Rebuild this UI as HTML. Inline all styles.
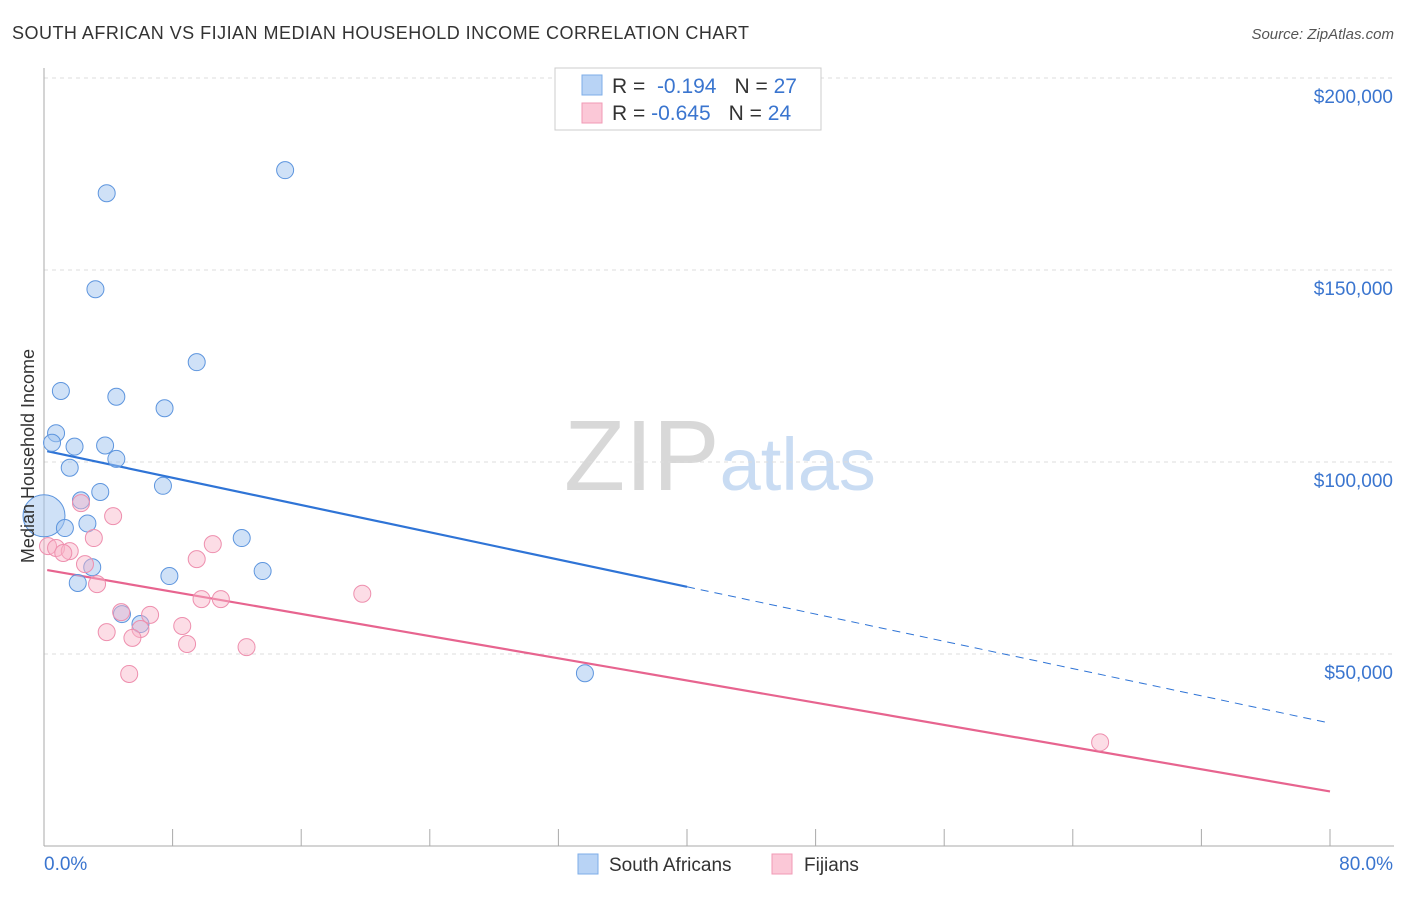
<!DOCTYPE html>
<html><head><meta charset="utf-8"><style>
body{margin:0;background:#fff;font-family:"Liberation Sans",sans-serif}
svg text{font-family:"Liberation Sans",sans-serif}
</style></head><body>
<svg id="chart" width="1406" height="892" xmlns="http://www.w3.org/2000/svg">
<text x="12" y="39" font-size="18" fill="#333" textLength="737">SOUTH AFRICAN VS FIJIAN MEDIAN HOUSEHOLD INCOME CORRELATION CHART</text>
<text x="1394" y="39" font-size="15" fill="#555" text-anchor="end" font-style="italic">Source: ZipAtlas.com</text>
<text x="720" y="490" font-size="100" text-anchor="middle" fill="#ddd" font-family="Liberation Serif"><tspan fill="#d8d8d8">ZIP</tspan><tspan fill="#c9dcf3" font-family="Liberation Sans" font-size="74">atlas</tspan></text>
<g id="grid"></g>
<g id="axes"></g>
<g id="lines"></g>
<g id="pts"></g>
<text transform="translate(34,456) rotate(-90)" font-size="18" fill="#333" text-anchor="middle">Median Household Income</text>
<g>
<rect x="555" y="68" width="266" height="62" fill="#fff" stroke="#ccc"/>
<rect x="582" y="75" width="20" height="20" fill="#b8d3f5" stroke="#7eaee8"/>
<text x="612" y="93" font-size="21" fill="#333">R = <tspan fill="#3a75cf">&#160;-0.194</tspan><tspan dx="18" fill="#333">N = </tspan><tspan fill="#3a75cf">27</tspan></text>
<rect x="582" y="103" width="20" height="20" fill="#fbc8d7" stroke="#f09ab5"/>
<text x="612" y="120" font-size="21" fill="#333">R = <tspan fill="#3a75cf">-0.645</tspan><tspan dx="18" fill="#333">N = </tspan><tspan fill="#3a75cf">24</tspan></text>
</g>
<g>
<rect x="578" y="854" width="20" height="20" fill="#b8d3f5" stroke="#7eaee8"/>
<text x="609" y="871" font-size="19" fill="#333">South Africans</text>
<rect x="772" y="854" width="20" height="20" fill="#fbc8d7" stroke="#f09ab5"/>
<text x="804" y="871" font-size="19" fill="#333">Fijians</text>
</g>
</svg>
<script>
const yTicks=[50000,100000,150000,200000];
const yTickLabels=["$50,000","$100,000","$150,000","$200,000"];
const saX=[3.9,15.0,3.2,9.5,1.05,4.5,7.5,0.75,0.5,1.9,3.8,4.5,1.6,7.4,3.5,2.3,0,2.7,1.3,12.3,3.0,7.8,13.6,2.1,4.85,6.0,33.65];
const saY=[170000,176000,145000,126000,118500,117000,114000,107500,105000,104000,104300,100800,98500,93800,92200,90000,86000,84000,82800,80200,72600,70300,71600,68500,60400,57800,45000];
const fjX=[0.25,0.75,1.6,1.2,2.3,3.1,4.3,10.5,9.5,2.55,3.3,4.8,6.6,9.8,11.0,8.6,3.9,6.0,5.5,8.9,12.6,5.3,19.8,65.7];
const fjY=[78100,77600,76800,76300,89300,80200,85900,78600,74700,73400,68200,60900,60200,64300,64300,57300,55700,56500,54200,52600,51800,44800,65700,27000];
const saStart=103000, saEnd=67500, fjStart=72000, fjEnd=14200;
const X0=44,X1=1330,Y0=846,YPX=192/50000;
const xs=v=>X0+v/80*(X1-X0), ys=v=>Y0-v*YPX;
const NS="http://www.w3.org/2000/svg";
function mk(p,t,a){const e=document.createElementNS(NS,t);for(const k in a)e.setAttribute(k,a[k]);p.appendChild(e);return e;}
const grid=document.getElementById('grid'),axes=document.getElementById('axes');
yTicks.forEach((v,i)=>{
 const l=mk(grid,'line',{x1:44,x2:1394,y1:ys(v),y2:ys(v),stroke:'#ddd','stroke-dasharray':'4,4'});
 
 
 const t=mk(grid,'text',{x:1393,y:ys(v)+25,'font-size':19,fill:'#3a75cf','text-anchor':'end'});
 t.textContent=yTickLabels[i];
 
 
});
const tl=mk(grid,'line',{x1:44,x2:1394,y1:78,y2:78,stroke:'#ddd','stroke-dasharray':'4,4'});


mk(axes,'line',{x1:44,x2:44,y1:68,y2:846,stroke:'#aaa'});
mk(axes,'line',{x1:44,x2:1394,y1:846,y2:846,stroke:'#aaa'});
for(let i=1;i<=10;i++){const x=xs(i*8);const t=mk(axes,'line',{x1:x,x2:x,y1:829,y2:846,stroke:'#aaa'});
 
 }
const xl0=mk(axes,'text',{x:44,y:870,'font-size':19,fill:'#3a75cf'});xl0.textContent='0.0%';


const xl1=mk(axes,'text',{x:1393,y:870,'font-size':19,fill:'#3a75cf','text-anchor':'end'});xl1.textContent='80.0%';


const lines=document.getElementById('lines');
const saSlope=(saEnd-saStart)/40;
let b=mk(lines,'line',{x1:xs(0.2),y1:ys(saStart+saSlope*0.2),x2:xs(40),y2:ys(saEnd),stroke:'#2f74d6','stroke-width':2.2});


b=mk(lines,'line',{x1:xs(40),y1:ys(saEnd),x2:xs(79.7),y2:ys(saStart+saSlope*79.7),stroke:'#2f74d6','stroke-width':1,'stroke-dasharray':'8,6'});


b=mk(lines,'line',{x1:xs(0.2),y1:ys(fjStart+(fjEnd-fjStart)/80*0.2),x2:xs(80),y2:ys(fjEnd),stroke:'#e7648f','stroke-width':2.2});


const pts=document.getElementById('pts');
saX.forEach((x,i)=>{const c=mk(pts,'circle',{cx:xs(x),cy:ys(saY[i]),r:i==16?21:8.5,fill:'rgba(160,196,240,0.5)',stroke:'#5d95de','stroke-width':1});
 
 });
fjX.forEach((x,i)=>{const c=mk(pts,'circle',{cx:xs(x),cy:ys(fjY[i]),r:8.5,fill:'rgba(249,180,200,0.45)',stroke:'#ee8fae','stroke-width':1});
 
 });
</script>
</body></html>
